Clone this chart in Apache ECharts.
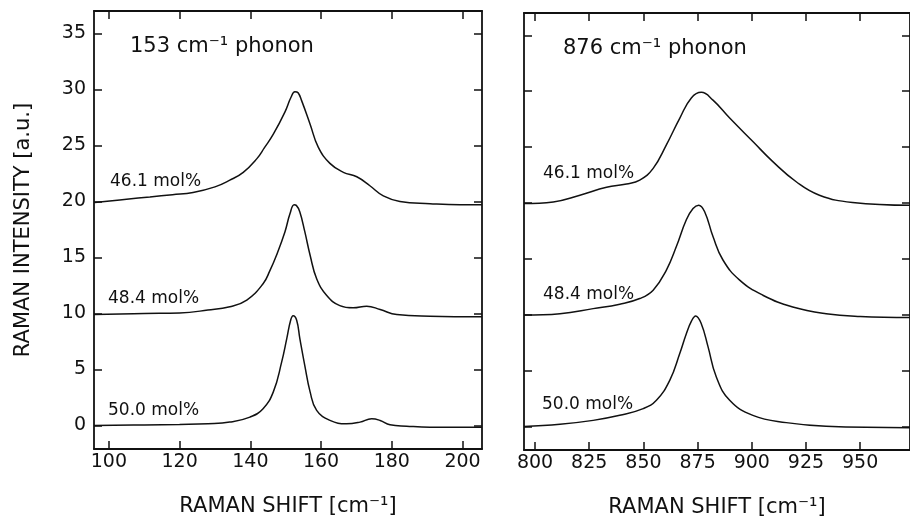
<!DOCTYPE html>
<html>
<head>
<meta charset="utf-8">
<script src="https://cdn.jsdelivr.net/npm/echarts@6/dist/echarts.min.js"></script>
<style>html,body{margin:0;padding:0;background:#fff;}#c{width:910px;height:523px;}</style>
</head>
<body>
<div id="c"></div>
<script>
// ---- Left panel: 153 cm-1 phonon ----
const leftTicks = [100, 120, 140, 160, 180, 200];
const L461x = [96, 105, 111.6, 118, 123.8, 130, 134.2, 138.0, 141.8, 144, 146.5, 149.8, 151.5, 152.6, 153.5, 154.5, 156.9, 159.2, 162.5, 166.3, 170.1, 173.8, 177.6, 182.3, 190.8, 199.3, 205.5];
const L461y = [19.9, 20.2, 20.4, 20.6, 20.8, 21.3, 21.9, 22.6, 23.8, 24.8, 26.0, 28.0, 29.3, 29.8, 29.7, 29.0, 26.9, 24.85, 23.4, 22.6, 22.2, 21.4, 20.5, 20.0, 19.8, 19.7, 19.7];
const L484x = [95.8, 110, 120, 128, 134.2, 139.0, 143.6, 145.5, 147.4, 149.8, 151.2, 152.4, 153.0, 154.0, 155.4, 156.9, 158.75, 161.6, 165.3, 169.1, 172.9, 176.7, 181.4, 190.8, 205.5];
const L484y = [9.9, 10.0, 10.05, 10.3, 10.6, 11.2, 12.65, 13.8, 15.2, 17.3, 18.9, 19.7, 19.65, 19.05, 17.3, 15.2, 13.1, 11.6, 10.7, 10.5, 10.65, 10.35, 9.9, 9.75, 9.7];
const L500x = [95.8, 110, 120, 128, 134.2, 139.9, 143.6, 146.5, 148.85, 150.3, 151.4, 152.1, 153.1, 154.0, 155.4, 156.9, 158.75, 162.5, 167.2, 171.0, 174.3, 176.7, 179.5, 184.2, 190.8, 205.5];
const L500y = [0.0, 0.05, 0.09, 0.15, 0.3, 0.75, 1.5, 3.0, 5.65, 7.75, 9.4, 9.8, 9.4, 7.75, 5.35, 3.0, 1.35, 0.45, 0.15, 0.3, 0.6, 0.45, 0.06, -0.06, -0.15, -0.15];

// ---- Right panel: 876 cm-1 phonon ----
const rightTicks = [800, 825, 850, 875, 900, 925, 950];
const R461x = [794.9, 808.4, 820.7, 833.0, 842.2, 848.3, 854.5, 860.6, 866.8, 872.1, 876.7, 882.1, 889.8, 900.5, 909.7, 920.5, 931.2, 946.5, 973];
const R461y = [19.95, 20.1, 20.7, 21.4, 21.7, 22.05, 23.1, 25.2, 27.6, 29.4, 29.9, 29.2, 27.6, 25.5, 23.7, 21.9, 20.7, 20.05, 19.8];
const R484x = [794.9, 811.5, 826.8, 839.1, 848.3, 854.5, 860.6, 865.2, 869.8, 872.9, 875.5, 878.3, 882.1, 886.7, 894.4, 905.1, 918.9, 934.3, 950, 973];
const R484y = [9.97, 10.1, 10.55, 10.95, 11.45, 12.2, 14.0, 16.1, 18.5, 19.5, 19.8, 19.2, 17.0, 14.9, 13.1, 11.75, 10.7, 10.1, 9.85, 9.75];
const R500x = [794.9, 811.5, 826.8, 839.1, 849.9, 856.0, 862.2, 866.8, 869.8, 872.1, 874.1, 876.7, 879.8, 883.6, 889.8, 900.5, 915.9, 934.3, 973];
const R500y = [0.0, 0.2, 0.55, 1.0, 1.6, 2.35, 4.15, 6.55, 8.3, 9.4, 9.9, 9.2, 7.15, 4.45, 2.35, 1.0, 0.35, 0.03, -0.1];

const yTicks = [0, 5, 10, 15, 20, 25, 30, 35];
const yMin = -2.1, yMax = 37;

const labels = ['46.1 mol%', '48.4 mol%', '50.0 mol%'];
const panelTitles = ['153 cm\u207B\u00B9 phonon', '876 cm\u207B\u00B9 phonon'];
const xName = 'RAMAN SHIFT [cm\u207B\u00B9]';
const yName = 'RAMAN INTENSITY [a.u.]';

const FONT = 'DejaVu Sans';
const INK = '#111';
const zip = (xs, ys) => xs.map((x, i) => [x, ys[i]]);

function xAx(grid, min, max, ticks, pos, showLabel, name) {
  return {
    type: 'value', gridIndex: grid, position: pos, min: min, max: max,
    name: name || '', nameLocation: 'middle', nameGap: 47,
    nameTextStyle: { fontFamily: FONT, fontSize: 21, color: INK },
    axisLine: { show: true, onZero: false, lineStyle: { color: INK, width: 1.8 } },
    axisTick: { show: true, inside: true, length: 8, customValues: ticks, lineStyle: { color: INK, width: 1.5 } },
    axisLabel: { show: showLabel, customValues: ticks, margin: 4, fontFamily: FONT, fontSize: 19, color: INK },
    splitLine: { show: false }
  };
}
function yAx(grid, pos, showLabel, name) {
  return {
    type: 'value', gridIndex: grid, position: pos, min: yMin, max: yMax,
    name: name || '', nameLocation: 'middle', nameGap: 60, nameRotate: 90,
    nameTextStyle: { fontFamily: FONT, fontSize: 21, color: INK },
    axisLine: { show: true, onZero: false, lineStyle: { color: INK, width: 1.8 } },
    axisTick: { show: true, inside: true, length: 8, customValues: yTicks, lineStyle: { color: INK, width: 1.5 } },
    axisLabel: { show: showLabel, customValues: yTicks, margin: 8, fontFamily: FONT, fontSize: 19, color: INK },
    splitLine: { show: false }
  };
}
function line(data, xi, yi) {
  return {
    type: 'line', data: data, xAxisIndex: xi, yAxisIndex: yi,
    showSymbol: false, smooth: 0.45, clip: true,
    lineStyle: { color: INK, width: 1.5 }
  };
}
function txt(t, x, y, size) {
  return { type: 'text', x: x, y: y, style: { text: t, fill: INK, fontFamily: FONT, fontSize: size, verticalAlign: 'middle', align: 'left' } };
}

const chart = echarts.init(document.getElementById('c'), null, { renderer: 'canvas' });
chart.setOption({
  animation: false,
  backgroundColor: '#fff',
  grid: [
    { left: 94, top: 11, width: 388, height: 438 },
    { left: 524, top: 13, width: 387, height: 438 }
  ],
  xAxis: [
    xAx(0, 95.8, 205.5, leftTicks, 'bottom', true, xName),
    xAx(0, 95.8, 205.5, leftTicks, 'top', false),
    xAx(1, 794.9, 973, rightTicks, 'bottom', true, xName),
    xAx(1, 794.9, 973, rightTicks, 'top', false)
  ],
  yAxis: [
    yAx(0, 'left', true, yName),
    yAx(0, 'right', false),
    yAx(1, 'left', false),
    yAx(1, 'right', false)
  ],
  series: [
    line(zip(L461x, L461y), 0, 0),
    line(zip(L484x, L484y), 0, 0),
    line(zip(L500x, L500y), 0, 0),
    line(zip(R461x, R461y), 2, 2),
    line(zip(R484x, R484y), 2, 2),
    line(zip(R500x, R500y), 2, 2)
  ],
  graphic: [
    txt(panelTitles[0], 130, 47, 21),
    txt(panelTitles[1], 563, 49, 21),
    txt(labels[0], 110, 182, 17),
    txt(labels[1], 108, 299, 17),
    txt(labels[2], 108, 411, 17),
    txt(labels[0], 543, 174, 17),
    txt(labels[1], 543, 295, 17),
    txt(labels[2], 542, 405, 17)
  ]
});
</script>
</body>
</html>
